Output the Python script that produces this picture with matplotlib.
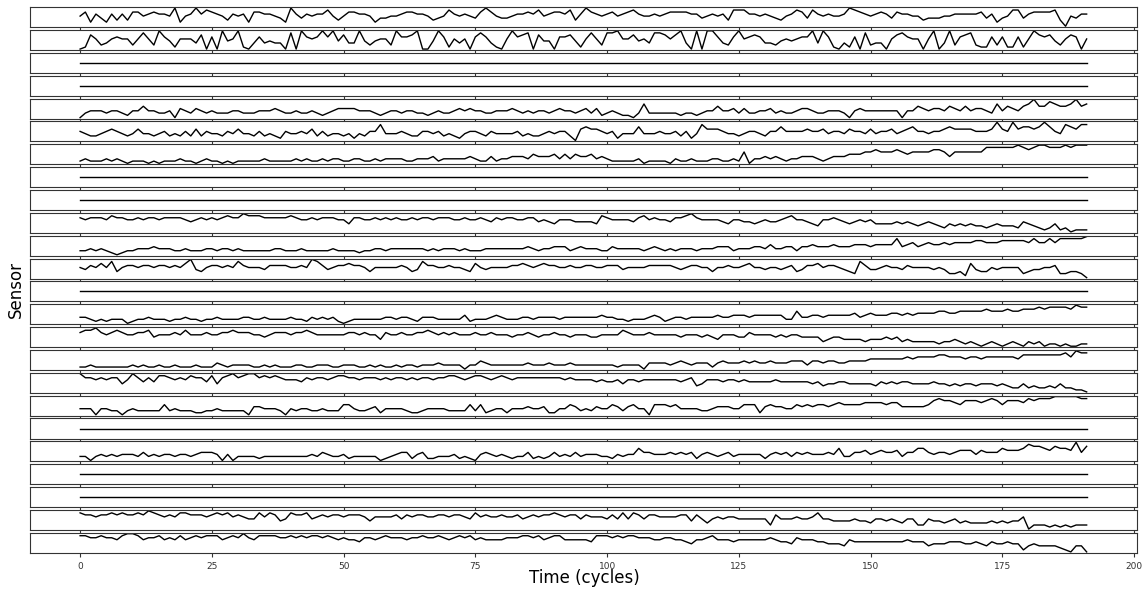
import numpy as np
import matplotlib
matplotlib.use("Agg")
import matplotlib.pyplot as plt


def digits(s):
    # each character is one cycle on a 0-9 scale
    return [int(c) for c in s.replace(" ", "")]


n_cycles = 192
cycles = np.arange(n_cycles)

sensor_01 = digits("57264263 63775676 65925696 87653656 27766542 96465668 53577665 24455677 "
                   "66534586 56547975 44566768 56776836 97656756 78655656 77776645 65638886 "
                   "65654356 87486565 56987656 76476655 34445566 66674624 58846777 78305466")
sensor_02 = digits("01752356 55258529 64155537 06094591 03634330 80965696 94733942 45529667 "
                   "90049615 35068631 05967807 44066741 58528895 57453887 57930909 96326956 "
                   "76332454 56693961 03160823 30578655 05903926 78211626 11615976 74257605")
sensor_05 = digits("13444344 32446443 34154354 34333443 33444543 34334323 45555444 32344344 "
                   "33234334 54544334 44543434 43454434 53523432 21373333 33233234 46445353 "
                   "34453433 45543344 43145444 44441446 54554654 64554374 65467966 87667967")
sensor_06 = digits("54334565 43464434 53435363 54435464 43534325 44546353 44342435 58444543 "
                   "35545343 24554354 44453433 45455316 76654524 44744454 45352486 66544345 "
                   "54355755 55655645 54655464 55645675 54556766 66555696 59677679 75487688")
sensor_07 = digits("23222323 21222121 22232212 32212122 22232222 23232232 33223322 32333322 "
                   "33342333 33432242 33444354 44535354 45343222 22312222 13223222 33223261 "
                   "33434323 34443234 44555667 66676566 66776466 66668888 88987899 88898999")
sensor_10 = digits("76777687 76676776 77776567 67678779 88877777 87667677 76647766 76767667 "
                   "67767776 67667657 67766775 65466655 55487666 65786766 57789766 66546655 "
                   "45655678 66543667 65456564 44454543 45432434 34332343 33254321 24120111")
sensor_11 = digits("22323210 12233343 33223222 33233232 22222332 22322222 32222122 33233333 "
                   "33232333 23222333 33333432 33444234 33322433 33323432 32333233 34442333 "
                   "44353344 24454445 44455545 55584564 56556566 66776667 77776866 86888889")
sensor_12 = digits("54657583 56656656 65657943 56656586 55546666 55659864 56676653 55555653 "
                   "48665565 54375455 55667656 76655655 66556664 55556666 65456655 35565567 "
                   "55455456 34667566 54328644 56554655 55454223 17433545 55523445 56223320")
sensor_14 = digits("33212122 20122322 21223221 22322223 32232222 32213232 31012222 22332332 "
                   "13332222 24122234 32223323 33323333 33343322 12223431 23323333 34334443 "
                   "44444422 63344344 44453454 44554545 55566556 66667666 76677787 88887988")
sensor_15 = digits("78897678 76677856 66768666 76677877 76656777 67787666 66677676 64766766 "
                   "77876767 66676676 66566765 66766566 65566668 76667666 66566656 54666557 "
                   "66665656 65555345 54444344 45453433 33323343 23212321 23213231 22121122")
sensor_16 = digits("11211111 11212112 11211121 11321222 21121211 12211222 11222112 12112122 "
                   "12223222 20224322 22222322 23222322 22222212 22203333 23432333 13433343 "
                   "43343334 44244344 33444455 55555656 66677666 56656666 66577777 77786988")
sensor_17 = digits("97767677 46975758 87676877 58478978 99787876 66576776 78877677 76767767 "
                   "67767788 76788767 87677777 77776766 66565564 66566666 66567346 66566565 "
                   "55556555 55545344 55444443 54545544 44544343 44344434 32242322 32422110")
sensor_18 = digits("33303322 02322222 52322211 22322222 04433320 32332232 22553223 41333321 "
                   "12333322 22525123 31333433 41133542 32433542 45330555 45333322 34443355 "
                   "51454433 54545545 65555666 65664444 45787765 77767875 77768788 89999988")
sensor_20 = digits("22023232 33324232 33233234 44303022 22122222 22223243 22312222 20123441 "
                   "34112223 12103432 32122412 12423242 33322132 33644333 43434134 32342333 "
                   "33134342 43433343 62244534 54452446 64344345 55354446 55568776 57665947")
sensor_23 = digits("87767787 87787987 67688777 67878676 55868745 87785676 77677764 66667576 "
                   "77667767 76586766 76675676 77876775 76665758 58757766 66774753 56566555 "
                   "55527555 65568554 44454435 54543552 25443453 43333434 34460222 12121222")
sensor_24 = digits("88778776 89986778 67686787 88867879 76888877 87878878 76766577 67877767 "
                   "78778767 87867666 67778878 67886666 65888787 88777667 76654667 86665666 "
                   "66676554 76665544 43655555 55555655 53444555 44543544 54413433 33210330")
constant = [1] * n_cycles  # sensors that never change

rows = [sensor_01, sensor_02, constant, constant, sensor_05, sensor_06, sensor_07,
        constant, constant, sensor_10, sensor_11, sensor_12, constant, sensor_14,
        sensor_15, sensor_16, sensor_17, sensor_18, constant, sensor_20, constant,
        constant, sensor_23, sensor_24]

for r in rows:
    assert len(r) == n_cycles, len(r)

fig, axes = plt.subplots(len(rows), 1, figsize=(11.45, 5.9), dpi=100, sharex=True)
fig.subplots_adjust(left=0.026, right=0.993, top=0.988, bottom=0.063, hspace=0.14)

for ax, vals in zip(axes, rows):
    ax.plot(cycles, vals, color='black', linewidth=1.0)
    ax.set_yticks([])
    ax.tick_params(axis='x', labelsize=6.5, length=3, width=0.8, colors='#333333',
                   labelcolor='#333333')
    for sp in ax.spines.values():
        sp.set_color('#333333')

axes[-1].set_xticks(np.arange(0, 201, 25))

fig.text(0.51, 0.02, 'Time (cycles)', ha='center', va='center', fontsize=12)
fig.text(0.014, 0.51, 'Sensor', ha='center', va='center', rotation=90, fontsize=12)

fig.savefig('out.png')
